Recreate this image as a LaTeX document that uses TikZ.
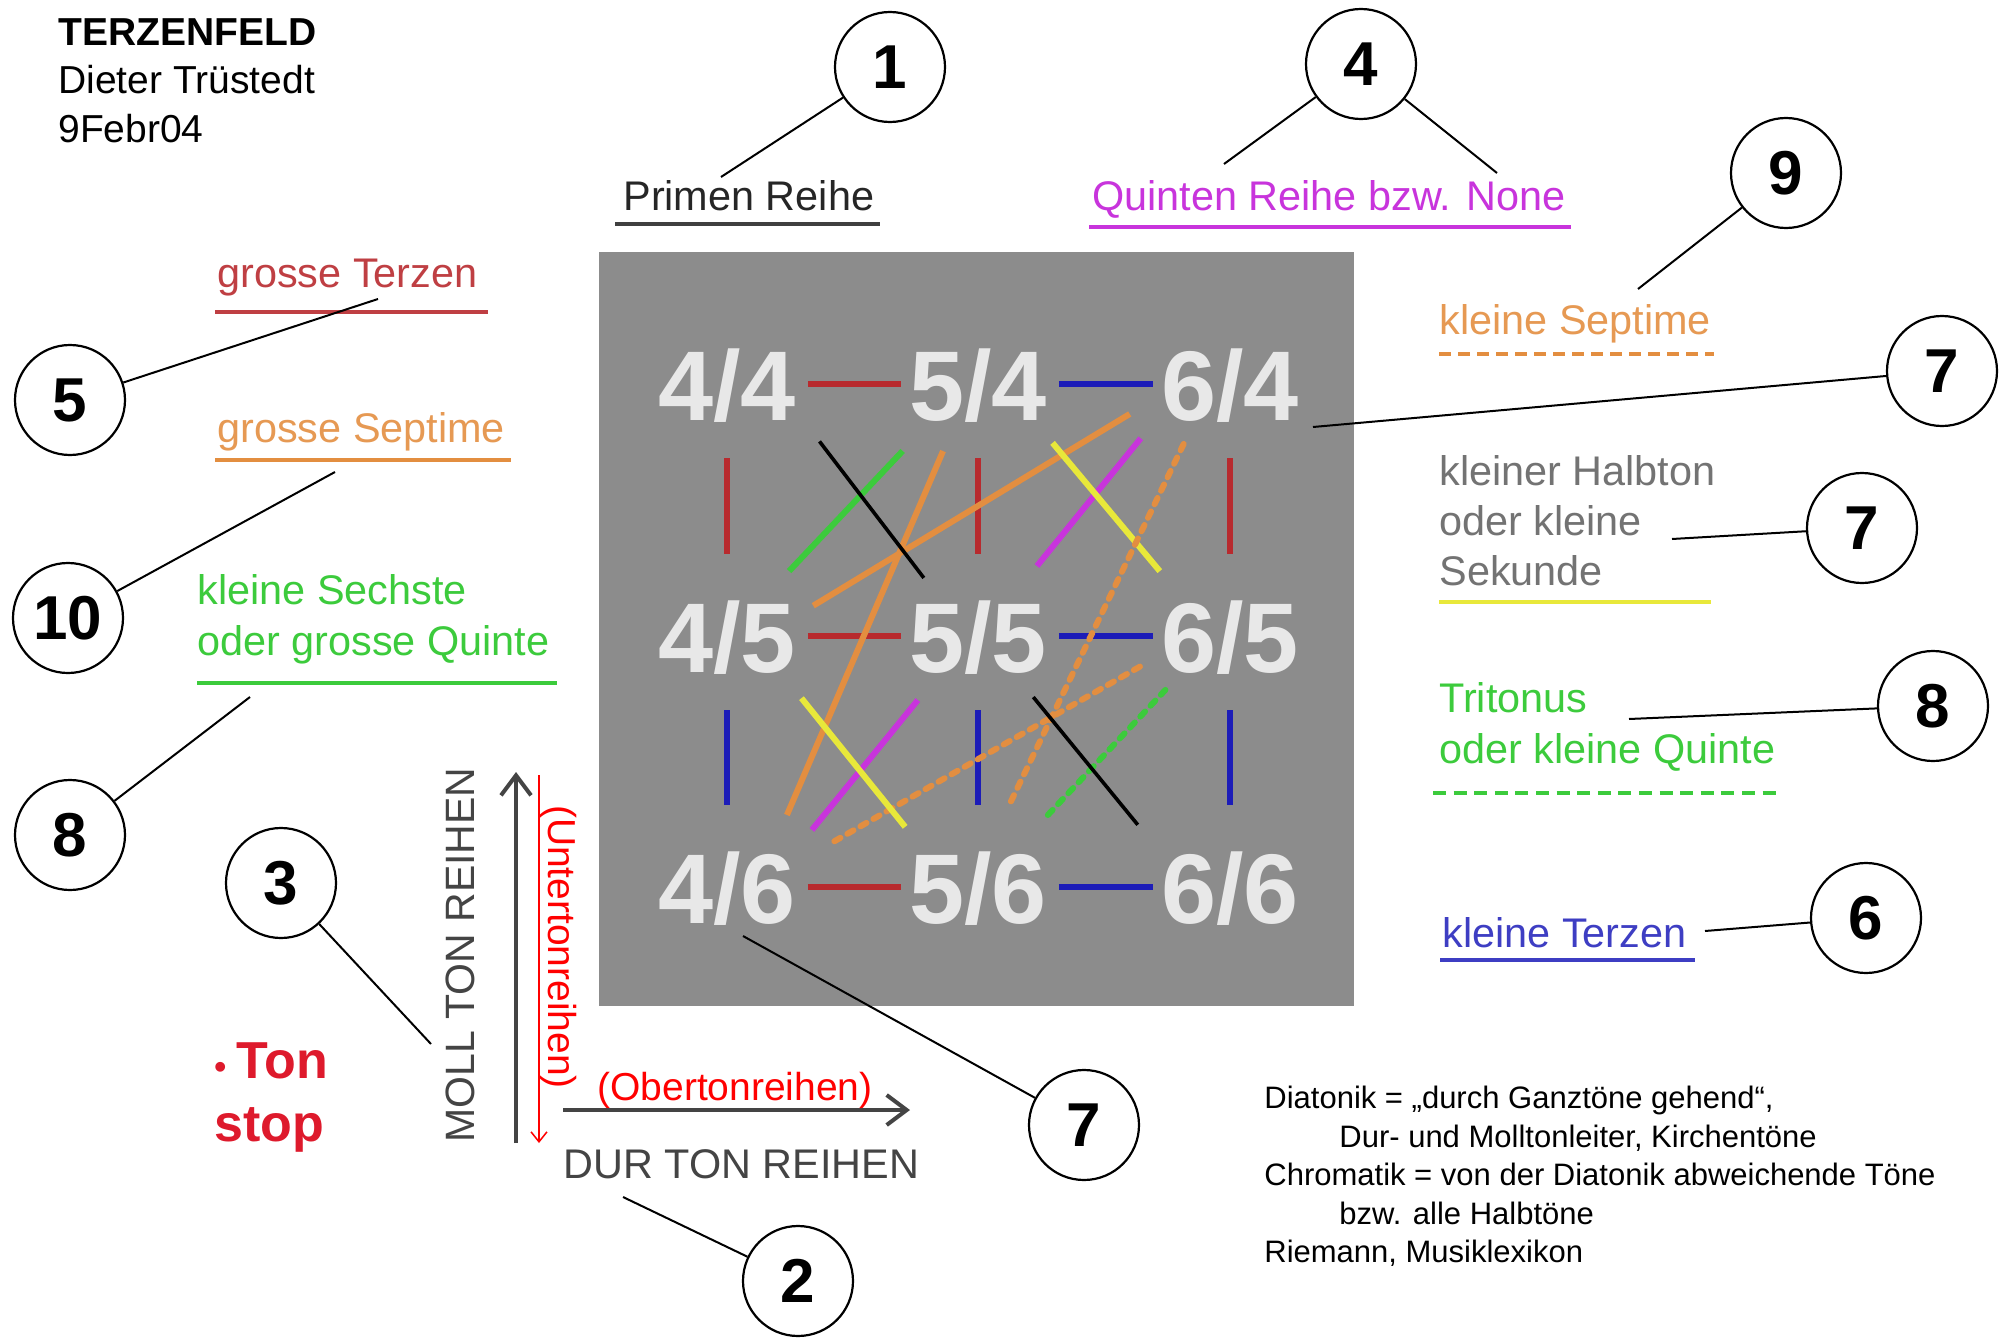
\documentclass[tikz,border=0pt]{standalone}
\usepackage{fontspec}
\setmainfont{Liberation Sans}
\usetikzlibrary{arrows.meta}
\newcommand\fsz[1]{\fontsize{#1}{#1}\selectfont}
\definecolor{fieldgray}{HTML}{8C8C8C}
\definecolor{ratiogray}{HTML}{E8E8E8}
\definecolor{terzred}{HTML}{B82A2E}
\definecolor{terzblue}{HTML}{1C1CB8}
\definecolor{septorange}{HTML}{E38E40}
\definecolor{sextgreen}{HTML}{3CCB3C}
\definecolor{sekyellow}{HTML}{E8E83A}
\definecolor{quintmag}{HTML}{C834DC}
\definecolor{axisgray}{HTML}{444444}
\definecolor{tonred}{HTML}{DE1A2C}
\tikzset{
	ring/.style={draw, circle, line width=1.1pt, minimum size=55pt, inner sep=0pt, font=\bfseries\fsz{31}},
	callout/.style={line width=1pt},
	ratiobox/.style={inner sep=0pt, outer sep=0pt, text height=36pt, text depth=0pt, text=ratiogray, font=\bfseries\fsz{49.5}},
	hcon/.style={line width=2.8pt, shorten <=6pt, shorten >=4pt},
	vcon/.style={line width=2.8pt, shorten <=19pt, shorten >=23pt},
	ival/.style={line width=3pt},
	dival/.style={line width=3pt, line cap=round, dash pattern=on 3.5pt off 4pt},
	lgd/.style={anchor=base west, inner sep=0pt, font=\fsz{20.7}},
	uline/.style={line width=2.3pt}
}

\begin{document}
\begin{tikzpicture}[x=0.5pt, y=-0.5pt]
			%%%%% PAGE %%%%%
			\fill[white] (0,0) rectangle (2009,1338);
			\useasboundingbox (0,0) rectangle (2009,1338);
			
			\node[anchor=base west, inner sep=0pt, font=\bfseries\fsz{19.5}] (title) at (58,46) {TERZENFELD};
			\node[anchor=base west, inner sep=0pt, font=\fsz{19.5}] (author) at (58,94) {Dieter Trüstedt};
			\node[anchor=base west, inner sep=0pt, font=\fsz{19.5}] (date) at (58,142) {9Febr04};
			
			%%%%% FIELD %%%%%
			\fill[fieldgray] (599,252) rectangle (1354,1006);
			
			\node[ratiobox] (n44) at (727,384) {4/4};
			\node[ratiobox] (n54) at (978,384) {5/4};
			\node[ratiobox] (n64) at (1230,384) {6/4};
			\node[ratiobox] (n45) at (727,636) {4/5};
			\node[ratiobox] (n55) at (978,636) {5/5};
			\node[ratiobox] (n65) at (1230,636) {6/5};
			\node[ratiobox] (n46) at (727,887) {4/6};
			\node[ratiobox] (n56) at (978,887) {5/6};
			\node[ratiobox] (n66) at (1230,887) {6/6};
			
			\draw[hcon, terzred] (n44) -- (n54);
			\draw[hcon, terzred] (n45) -- (n55);
			\draw[hcon, terzred] (n46) -- (n56);
			\draw[hcon, terzblue] (n54) -- (n64);
			\draw[hcon, terzblue] (n55) -- (n65);
			\draw[hcon, terzblue] (n56) -- (n66);
			\draw[vcon, terzred] (n44) -- (n45);
			\draw[vcon, terzred] (n54) -- (n55);
			\draw[vcon, terzred] (n64) -- (n65);
			\draw[vcon, terzblue] (n45) -- (n46);
			\draw[vcon, terzblue] (n55) -- (n56);
			\draw[vcon, terzblue] (n65) -- (n66);
			
			\draw[ival, sextgreen, shorten <=19.9pt, shorten >=21.3pt] (n45.46) -- (n54.218);
			\draw[ival, septorange, shorten <=10.2pt, shorten >=18.4pt] (n45.16) -- (n64.189);
			\draw[ival, septorange, shorten <=19.6pt, shorten >=16.9pt] (n46.39) -- (n54.239);
			\draw[line width=1.8pt, shorten <=19.5pt, shorten >=13.9pt] (n44.-21) -- (n55.136);
			\draw[ival, quintmag, shorten <=21.9pt, shorten >=16.2pt] (n55.49) -- (n64.203);
			\draw[ival, sekyellow, shorten <=14.9pt, shorten >=18.8pt] (n54.-33) -- (n65.142.5);
			\draw[dival, septorange, shorten <=13.3pt, shorten >=24.4pt] (n64.226) -- (n56.76);
			\draw[dival, septorange, shorten <=22.2pt, shorten >=8.4pt] (n46.19) -- (n65.195);
			\draw[ival, quintmag, shorten <=13.6pt, shorten >=18.1pt] (n46.28) -- (n55.224);
			\draw[ival, sekyellow, shorten <=16.8pt, shorten >=15.5pt] (n45.-34) -- (n56.146);
			\draw[dival, sextgreen, shorten <=24.7pt, shorten >=12.3pt] (n56.45) -- (n65.217);
			\draw[line width=1.8pt, shorten <=16.2pt, shorten >=18.5pt] (n55.-46) -- (n66.154);
			
			%%%%% LEGEND %%%%%
			\node[lgd, text=black!85] (prim) at (623,211) {Primen Reihe};
			\draw[uline, black!75] (615,224) -- (880,224);
			\node[lgd, text=quintmag] (quint) at (1092,211) {Quinten Reihe bzw. None};
			\draw[uline, quintmag] (1089,227) -- (1571,227);
			
			\node[lgd, text=terzred!90!white] (gterz) at (217,287) {grosse Terzen};
			\draw[uline, terzred!90!white] (215,312) -- (488,312);
			\node[lgd, text=septorange!90!white] (gsept) at (217,442) {grosse Septime};
			\draw[uline, septorange] (215,460) -- (511,460);
			\node[lgd, text=sextgreen] (ksext) at (197,604) {kleine Sechste};
			\node[lgd, text=sextgreen] (gquint) at (197,655) {oder grosse Quinte};
			\draw[uline, sextgreen] (197,683) -- (557,683);
			
			\node[lgd, text=septorange!90!white] (ksept) at (1439,334) {kleine Septime};
			\draw[uline, septorange, dash pattern=on 6pt off 3.5pt] (1439,354) -- (1714,354);
			\node[lgd, text=black!55] (halb1) at (1439,485) {kleiner Halbton};
			\node[lgd, text=black!55] (halb2) at (1439,535) {oder kleine};
			\node[lgd, text=black!55] (halb3) at (1439,585) {Sekunde};
			\draw[uline, sekyellow] (1439,602) -- (1711,602);
			\node[lgd, text=sextgreen] (trit1) at (1439,712) {Tritonus};
			\node[lgd, text=sextgreen] (trit2) at (1439,763) {oder kleine Quinte};
			\draw[uline, sextgreen, dash pattern=on 6.5pt off 3.8pt] (1433,793) -- (1783,793);
			\node[lgd, text=terzblue!85!white] (kterz) at (1442,947) {kleine Terzen};
			\draw[uline, terzblue!85!white] (1440,960) -- (1695,960);
			
			%%%%% AXES %%%%%
			\coordinate (mollS) at (516,1143);
			\coordinate (mollE) at (516,772);
			\coordinate (durS) at (563,1110);
			\coordinate (durE) at (910,1110);
			\coordinate (untS) at (539,775);
			\coordinate (untE) at (539,1143);
			\draw[line width=2pt, axisgray, -{Straight Barb[length=10pt, width=15pt]}] (mollS) -- (mollE);
			\draw[line width=2pt, axisgray, -{Straight Barb[length=10pt, width=15pt]}] (durS) -- (durE);
			\draw[line width=0.75pt, red, -{Straight Barb[length=5pt, width=8pt]}] (untS) -- (untE);
			
			\node[anchor=base, rotate=90, inner sep=0pt, text=axisgray, font=\fsz{20.5}] (moll) at (474,955) {MOLL TON REIHEN};
			\node[anchor=base, rotate=-90, inner sep=0pt, text=red, font=\fsz{19.5}] (unter) at (548,947) {(Untertonreihen)};
			\node[anchor=base west, inner sep=0pt, text=red, font=\fsz{19.5}] (ober) at (597,1100) {(Obertonreihen)};
			\node[anchor=base west, inner sep=0pt, text=axisgray, font=\fsz{20.7}] (dur) at (563,1178) {DUR TON REIHEN};
			
			\node[anchor=base west, inner sep=0pt, text=tonred, font=\bfseries\fsz{26}] (ton) at (214,1078) {{\fsz{17}•}\hspace{5pt}Ton};
			\node[anchor=base west, inner sep=0pt, text=tonred, font=\bfseries\fsz{26}] (stop) at (214,1141) {stop};
			
			\node[anchor=base west, inner sep=0pt, font=\fsz{15.5}] (dia1) at (1264,1108) {Diatonik = „durch Ganztöne gehend“,};
			\node[anchor=base west, inner sep=0pt, font=\fsz{15.5}] (dia2) at (1339,1147) {Dur- und Molltonleiter, Kirchentöne};
			\node[anchor=base west, inner sep=0pt, font=\fsz{15.5}] (chr1) at (1264,1185) {Chromatik = von der Diatonik abweichende Töne};
			\node[anchor=base west, inner sep=0pt, font=\fsz{15.5}] (chr2) at (1339,1224) {bzw. alle Halbtöne};
			\node[anchor=base west, inner sep=0pt, font=\fsz{15.5}] (riem) at (1264,1262) {Riemann, Musiklexikon};
			
			%%%%% RINGS %%%%%
			\node[ring] (c1) at (890,67) {1};
			\node[ring] (c2) at (798,1281) {2};
			\node[ring] (c3) at (281,883) {3};
			\node[ring] (c4) at (1361,64) {4};
			\node[ring] (c5) at (70,400) {5};
			\node[ring] (c6) at (1866,918) {6};
			\node[ring] (c7a) at (1942,371) {7};
			\node[ring] (c7b) at (1862,528) {7};
			\node[ring] (c7c) at (1084,1125) {7};
			\node[ring] (c8a) at (70,835) {8};
			\node[ring] (c8b) at (1933,706) {8};
			\node[ring] (c9) at (1786,173) {9};
			\node[ring] (c10) at (68,618) {10};
			
			\coordinate (t1) at (721,177);
			\coordinate (t2) at (623,1197);
			\coordinate (t3) at (431,1044);
			\coordinate (t4a) at (1224,164);
			\coordinate (t4b) at (1497,173);
			\coordinate (t5) at (378,299);
			\coordinate (t6) at (1705,931);
			\coordinate (t7a) at (1313,427);
			\coordinate (t7b) at (1672,539);
			\coordinate (t7c) at (743,936);
			\coordinate (t8a) at (250,697);
			\coordinate (t8b) at (1629,719);
			\coordinate (t9) at (1638,289);
			\coordinate (t10) at (335,472);
			
			\draw[callout] (c1) -- (t1);
			\draw[callout] (c2) -- (t2);
			\draw[callout] (c3) -- (t3);
			\draw[callout] (c4) -- (t4a);
			\draw[callout] (c4) -- (t4b);
			\draw[callout] (c5) -- (t5);
			\draw[callout] (c6) -- (t6);
			\draw[callout] (c7a) -- (t7a);
			\draw[callout] (c7b) -- (t7b);
			\draw[callout] (c7c) -- (t7c);
			\draw[callout] (c8a) -- (t8a);
			\draw[callout] (c8b) -- (t8b);
			\draw[callout] (c9) -- (t9);
			\draw[callout] (c10) -- (t10);
			%%%%% END %%%%%
\end{tikzpicture}
\end{document}
